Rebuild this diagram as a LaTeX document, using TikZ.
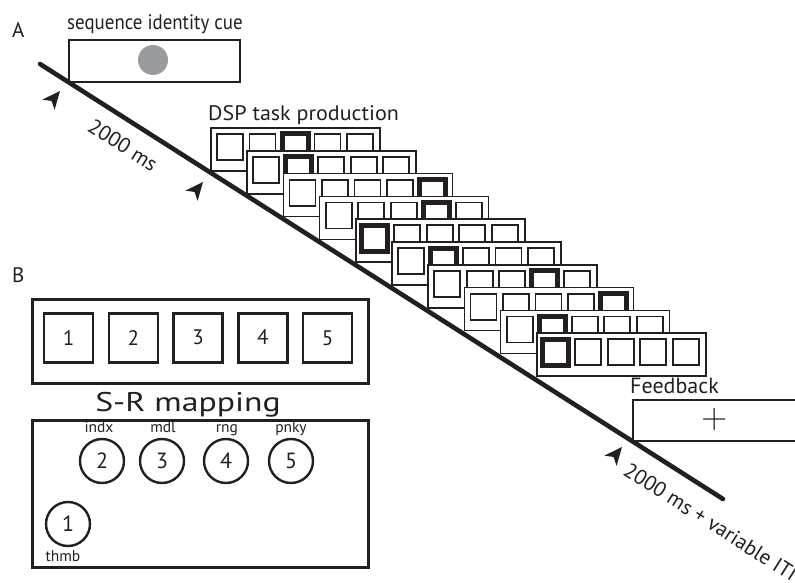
\documentclass[tikz,border=0pt]{standalone}
\usepackage{fontspec}
\setmainfont{PT Sans}
\newfontfamily\plusfont{Latin Modern Sans}
\usetikzlibrary{arrows.meta}
\definecolor{ink}{HTML}{231F20}
\definecolor{dotgray}{HTML}{9A9B9E}
\begin{document}
\begin{tikzpicture}[x=1pt,y=-1pt,
  every node/.style={text=ink},
  boxbase/.style={draw=ink, inner sep=0pt, outer sep=0pt, anchor=north west},
  framebox/.style={boxbase, fill=white, line width=1.5pt, minimum width=169pt, minimum height=43pt},
  keysq/.style={boxbase, line width=1.8pt, minimum width=26pt, minimum height=26pt},
  bigsq/.style={draw=ink, line width=2.4pt, inner sep=0pt, minimum width=49pt, minimum height=49pt, font=\fontsize{21}{23}\selectfont},
  finger/.style={circle, draw=ink, line width=2.4pt, inner sep=0pt, minimum size=44pt, font=\fontsize{22}{24}\selectfont},
  small/.style={font=\fontsize{15.5}{17}\selectfont, inner sep=0pt},
  label/.style={anchor=base west, inner sep=0pt, font=\fontsize{21}{24}\selectfont},
  timetxt/.style={font=\fontsize{21}{24}\selectfont, rotate=-32.5, inner sep=0pt},
  tickhead/.pic={\fill[ink] (0,0) -- (-18,-8) -- (-13,0) -- (-18,8) -- cycle;}
]
\useasboundingbox (0,0) rectangle (795,583);

% time line
\coordinate (ls) at (40,64);
\coordinate (le) at (723,499);
\draw[ink, line width=4.6pt, line cap=round] (ls) -- (le);

% panel A labels
\node[label] (lblA) at (12,38) {A};
\node[label] (cuelbl) at (67,30) {\scalebox{0.9}[1]{sequence identity cue}};
\node[label] (dsplbl) at (208,121) {\scalebox{1.05}[1]{DSP task production}};
\node[label, font=\fontsize{22}{24}\selectfont] (fblbl) at (630,393) {Feedback};

% cue box
\node[boxbase, line width=1.4pt, minimum width=171pt, minimum height=42pt] (cue) at (69,40) {};
\node[circle, fill=dotgray, minimum size=30pt, inner sep=0pt] (dot) at (153,60) {};

% feedback box
\node[boxbase, fill=white, line width=1.4pt, minimum width=170pt, minimum height=41pt] (fb) at (633,400) {};
\node[font=\plusfont\fontsize{36}{38}\selectfont, inner sep=0pt] (plus) at (715,420) {+};

% stacked DSP frames
\foreach \h [count=\i] in {3,2,5,4,1,2,4,5,2,1} {
  \pgfmathsetmacro\fx{211+36.2*(\i-1)}
  \pgfmathsetmacro\fy{128+22.8*(\i-1)}
  \node[framebox] (f\i) at (\fx,\fy) {};
  \foreach \k in {1,...,5} {
    \pgfmathsetmacro\lw{ifthenelse(\k==\h,5,1.8)}
    \node[keysq, line width=\lw pt, xshift={6pt+32.5pt*(\k-1)}, yshift=-6pt] (f\i s\k) at (f\i.north west) {};
  }
}

% arrowheads
\coordinate (a1t) at (60,91);
\coordinate (a2t) at (203,182);
\coordinate (a3t) at (622,447);
\pic[rotate=50] at (a1t) {tickhead};
\pic[rotate=50] at (a2t) {tickhead};
\pic[rotate=50] at (a3t) {tickhead};

% time texts
\node[timetxt] (t1) at (123,145) {2000 ms};
\node[timetxt, anchor=west] (t2) at (626,468) {2000 ms + variable ITI};

% panel B
\node[label] (lblB) at (12,282) {B};
\node[boxbase, line width=3pt, minimum width=336pt, minimum height=84pt] (keys) at (32.5,299.5) {};
\node[bigsq] (k1) at (68.7,338) {1};
\node[bigsq] (k2) at (133.4,338) {2};
\node[bigsq] (k3) at (198.1,338) {\raisebox{1pt}{3}};
\node[bigsq] (k4) at (262.8,338) {\raisebox{2pt}{4}};
\node[bigsq] (k5) at (327.5,338) {\raisebox{-1.5pt}{5}};

\node[font=\fontsize{27}{30}\selectfont, anchor=base, inner sep=0pt] (srlbl) at (188,411) {\scalebox{1.25}[1]{S-R mapping}};
\node[boxbase, line width=3pt, minimum width=336pt, minimum height=147pt] (hand) at (32.5,420.5) {};

\node[finger] (c2) at (102,461) {2};
\node[finger] (c3) at (162,461) {3};
\node[finger] (c4) at (226,461) {4};
\node[finger] (c5) at (291,461) {5};
\node[finger] (c1) at (68,524) {1};

\node[small, anchor=base] (n2) at (99,432) {indx};
\node[small, anchor=base] (n3) at (163,432) {mdl};
\node[small, anchor=base] (n4) at (227,432) {rng};
\node[small, anchor=base] (n5) at (291,432) {pnky};
\node[small, anchor=base] (n1) at (63,561) {thmb};
\end{tikzpicture}
\end{document}
